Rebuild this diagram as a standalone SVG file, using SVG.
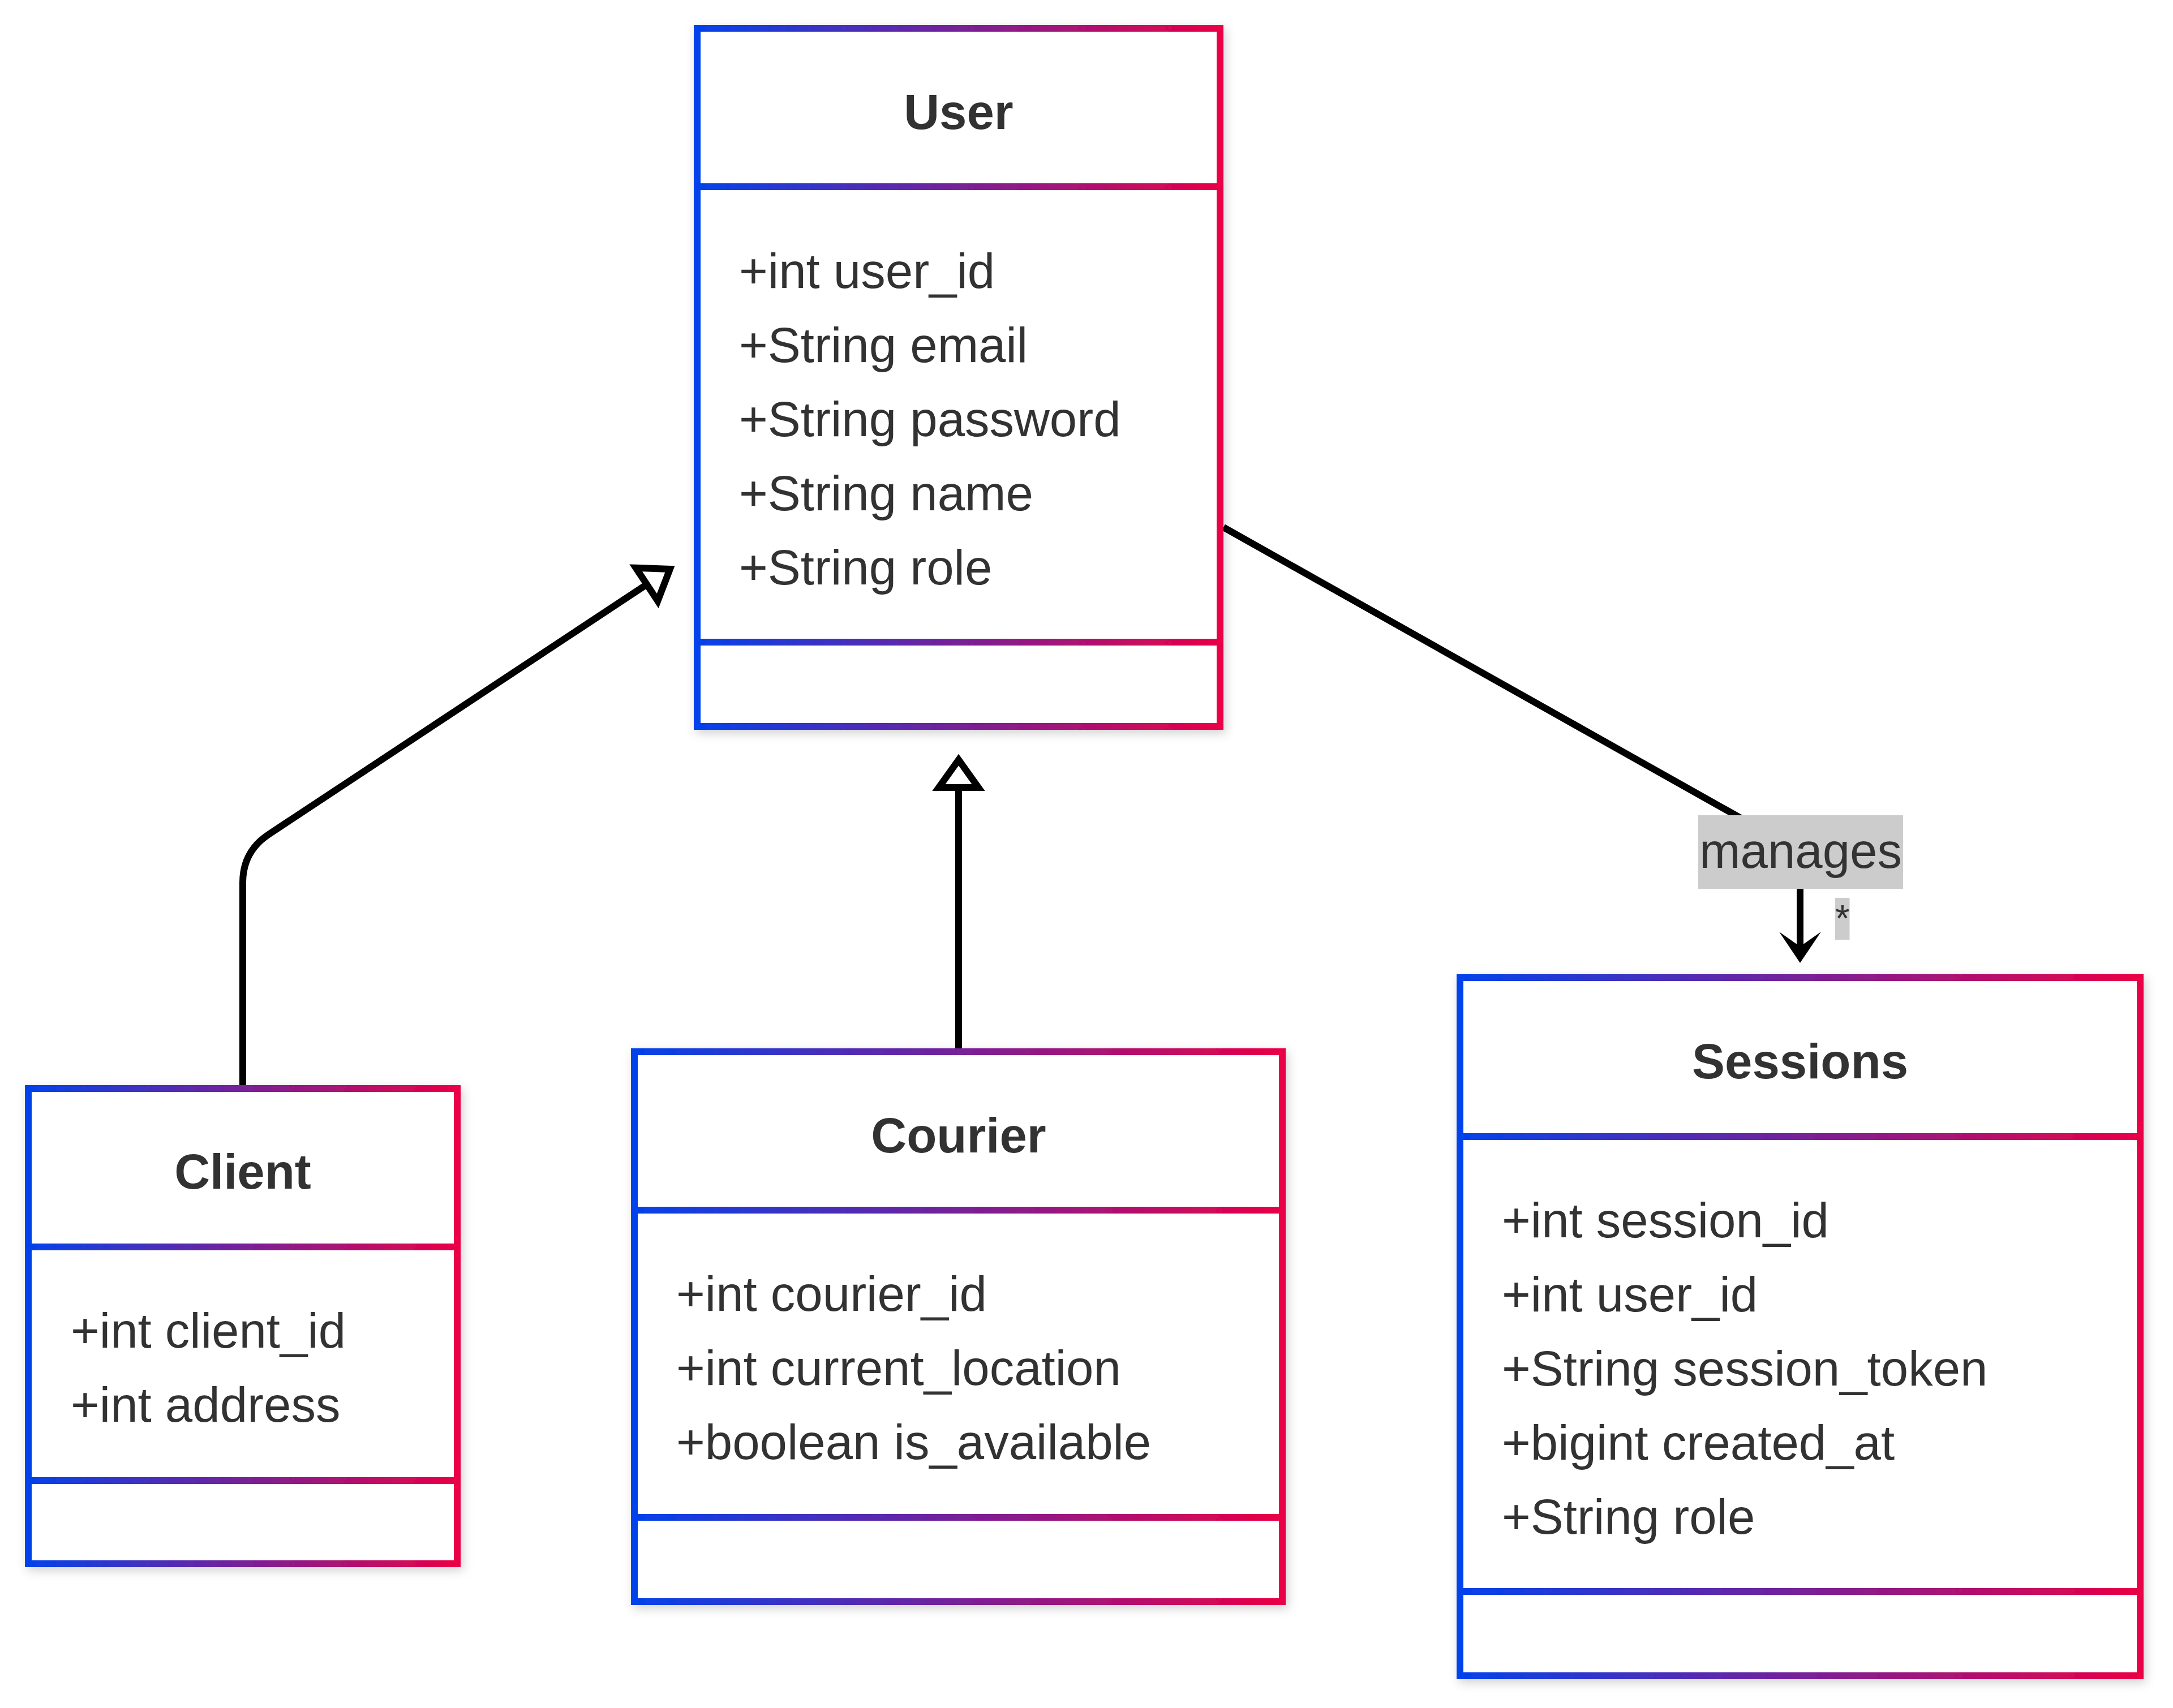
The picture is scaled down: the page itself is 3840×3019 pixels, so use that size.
<svg xmlns="http://www.w3.org/2000/svg" width="3840" height="3019" viewBox="0 0 3840 3019">
<style>
  .box { fill: #ffffff; stroke: url(#grad); stroke-width: 12; }
  .title { font-family: "Liberation Sans", Arial, sans-serif; font-size: 87px; font-weight: bold; fill: #333333; text-anchor: middle; }
  .attr { font-family: "Liberation Sans", Arial, sans-serif; font-size: 87px; fill: #333333; }
  .edge { fill: none; stroke: #000000; stroke-width: 12; }
  .lblbg { fill: #cccccc; }
  .lbl { font-family: "Liberation Sans", Arial, sans-serif; font-size: 87px; fill: #333333; text-anchor: middle; }
  .card { font-family: "Liberation Sans", Arial, sans-serif; font-size: 66px; fill: #333333; }
</style>
<defs>
  <linearGradient id="grad" x1="0" y1="0" x2="1" y2="0">
    <stop offset="0" stop-color="#0342EB"/>
    <stop offset="1" stop-color="#EA0046"/>
  </linearGradient>
  <filter id="shadow" x="-10%" y="-10%" width="120%" height="120%">
    <feDropShadow dx="4" dy="6" stdDeviation="9" flood-color="#000" flood-opacity="0.18"/>
  </filter>
  <marker id="ext" markerUnits="userSpaceOnUse" markerWidth="120" markerHeight="120" viewBox="-20 -60 120 120" refX="0" refY="0" orient="auto" overflow="visible">
    <path d="M0,-35 L49,0 L0,35 Z" fill="#ffffff" stroke="#000000" stroke-width="12"/>
  </marker>
  <marker id="dep" markerUnits="userSpaceOnUse" markerWidth="120" markerHeight="120" viewBox="-60 -60 120 120" refX="0" refY="0" orient="auto" overflow="visible">
    <path d="M27,0 L-28,-37 L-2,0 L-28,37 Z" fill="#000000"/>
  </marker>
</defs>
<rect width="3840" height="3019" fill="#ffffff"/>

<g id="connectors">
  <path class="edge" d="M429,1924 L429,1560 Q429,1505 475,1474.7 L1143,1033" marker-end="url(#ext)"/>
  <path class="edge" d="M1694,1859 L1694,1392" marker-end="url(#ext)"/>
  <path class="edge" d="M2162,932 L3181,1505 L3181,1675" marker-end="url(#dep)"/>
  <g id="label-manages">
    <rect class="lblbg" x="3001" y="1441" width="362" height="130"/>
    <text class="lbl" x="3182" y="1534">manages</text>
  </g>
  <g id="label-card">
    <rect class="lblbg" x="3243" y="1587" width="25.5" height="74"/>
    <text class="card" x="3243" y="1646">*</text>
  </g>
</g>

<g id="User" filter="url(#shadow)">
  <path class="box" d="M1232,50 H2156 V1284 H1232 Z M1232,330 H2156 M1232,1135 H2156"/>
  <text class="title" x="1694" y="228">User</text>
  <text class="attr" x="1306" y="509">+int user_id</text>
  <text class="attr" x="1306" y="640">+String email</text>
  <text class="attr" x="1306" y="771">+String password</text>
  <text class="attr" x="1306" y="902">+String name</text>
  <text class="attr" x="1306" y="1033">+String role</text>
</g>

<g id="Client" filter="url(#shadow)">
  <path class="box" d="M50,1924 H808 V2764 H50 Z M50,2204 H808 M50,2617 H808"/>
  <text class="title" x="429" y="2101">Client</text>
  <text class="attr" x="125" y="2382">+int client_id</text>
  <text class="attr" x="125" y="2513">+int address</text>
</g>

<g id="Courier" filter="url(#shadow)">
  <path class="box" d="M1121,1859 H2266 V2831 H1121 Z M1121,2139 H2266 M1121,2682 H2266"/>
  <text class="title" x="1694" y="2037">Courier</text>
  <text class="attr" x="1195" y="2317">+int courier_id</text>
  <text class="attr" x="1195" y="2448">+int current_location</text>
  <text class="attr" x="1195" y="2579">+boolean is_available</text>
</g>

<g id="Sessions" filter="url(#shadow)">
  <path class="box" d="M2580,1728 H3782 V2962 H2580 Z M2580,2009 H3782 M2580,2813 H3782"/>
  <text class="title" x="3181" y="1906">Sessions</text>
  <text class="attr" x="2654" y="2187">+int session_id</text>
  <text class="attr" x="2654" y="2318">+int user_id</text>
  <text class="attr" x="2654" y="2449">+String session_token</text>
  <text class="attr" x="2654" y="2580">+bigint created_at</text>
  <text class="attr" x="2654" y="2711">+String role</text>
</g>
</svg>
